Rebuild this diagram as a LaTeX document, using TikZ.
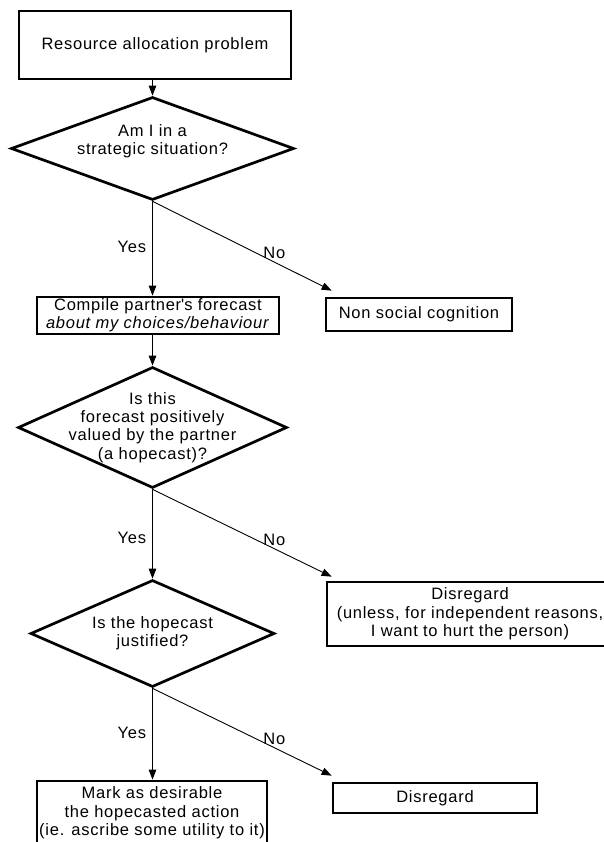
\documentclass[tikz,border=0pt]{standalone}
\usepackage{fontspec}
\setmainfont{Liberation Sans}[LetterSpace=4.5]
\usetikzlibrary{shapes.geometric,arrows.meta}
\tikzset{
  box/.style={draw=black, line width=2.7pt, rectangle, align=center, inner sep=0pt},
  decision/.style={draw=black, line width=2.7pt, diamond, inner sep=0pt},
  qtext/.style={align=center, inner sep=0pt},
  flow/.style={draw=black, line width=0.9pt, -{Triangle[length=10pt,width=7.5pt]}},
  answer/.style={inner sep=1pt}
}
\begin{document}
\begin{tikzpicture}[x=1pt, y=-1pt, font=\fontsize{16.5}{18.3}\selectfont]
\useasboundingbox (0,0) rectangle (604,842);
\node[box, minimum width=272, minimum height=68] (start) at(155, 45)
       {Resource allocation problem};
\node[decision, minimum width=283, minimum height=103,
       label={[qtext, yshift=7pt]center:{Am I in a\\strategic situation?}}] (d1) at(152.5, 148.5) {};
\node[box, minimum width=242, minimum height=37] (compile) at(158, 315.5)
       {Compile partner\textquotesingle s forecast\\\textit{about my choices/behaviour}};
\node[box, minimum width=186, minimum height=33] (nsc) at(419, 314.5)
       {Non social cognition};
\node[decision, minimum width=269, minimum height=121,
       label={[qtext]center:{Is this\\forecast positively\\valued by the partner\\(a hopecast)?}}] (d2) at(152.5, 427.5) {};
\node[box, minimum width=286, minimum height=64] (hurt) at(470, 614)
       {Disregard\\(unless, for independent reasons,\\I want to hurt the person)};
\node[decision, minimum width=244, minimum height=107,
       label={[qtext]center:{Is the hopecast\\justified?}}] (d3) at(152.5, 633.5) {};
\node[box, minimum width=230, minimum height=64] (mark) at(152, 813)
       {Mark as desirable\\the hopecasted action\\(ie. ascribe some utility to it)};
\node[box, minimum width=204, minimum height=30] (drop) at(435, 798)
       {Disregard};
\coordinate (nscin) at ([xshift=7pt, yshift=6pt]nsc.north west);
\coordinate (hurtin) at ([xshift=6pt, yshift=4pt]hurt.north west);
\coordinate (dropin) at ([yshift=6pt]drop.north west);
\draw[flow] (d1.north |- start.south) -- (d1.north);
\draw[flow] (d1.south) -- (d1.south |- compile.north)
       node[answer, pos=.48, left=5pt] {Yes};
\draw[flow] (d1.south) -- (nscin)
       node[answer, pos=.68, above=2pt] {No};
\draw[flow] (d2.north |- compile.south) -- (d2.north);
\draw[flow] (d2.south) -- (d3.north)
       node[answer, pos=.54, left=5pt] {Yes};
\draw[flow] (d2.south) -- (hurtin)
       node[answer, pos=.68, above=2pt] {No};
\draw[flow] (d3.south) -- (mark.north -| d3.south)
       node[answer, pos=.49, left=5pt] {Yes};
\draw[flow] (d3.south) -- (dropin)
       node[answer, pos=.68, above=2pt] {No};
\end{tikzpicture}
\end{document}
